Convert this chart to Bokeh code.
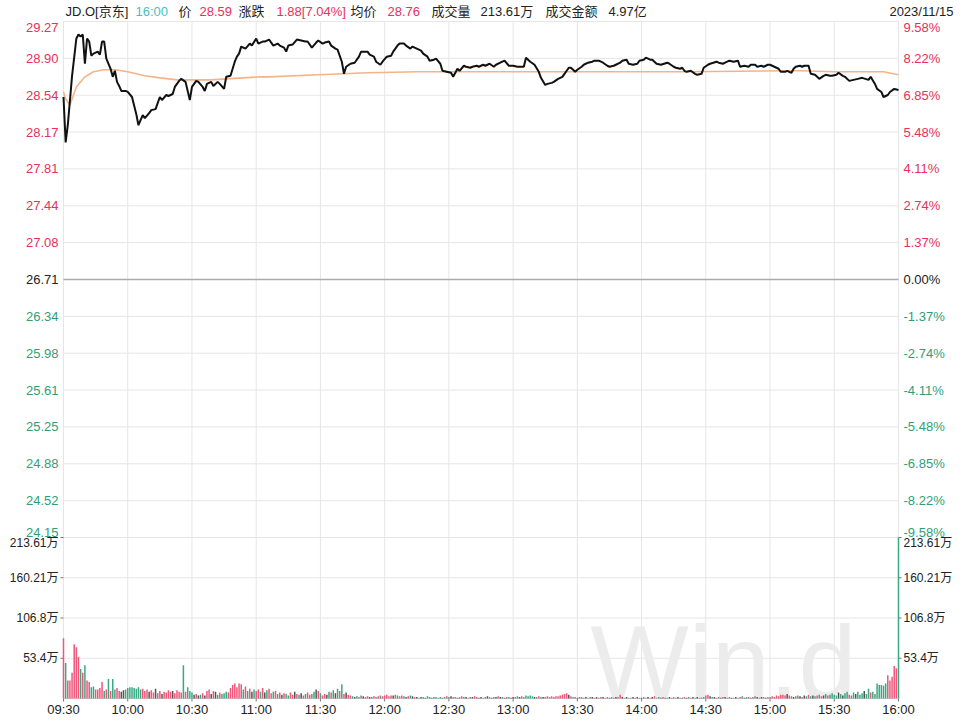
from bokeh.plotting import figure
from bokeh.models import Range1d
from bokeh.core.properties import value
from bokeh.embed import file_html
from bokeh.resources import INLINE

# ---------------- data ----------------
ticker_name = "JD.O[京东]"
last_time = "16:00"
last_price = 28.59
change = 1.88
change_pct = 7.04
avg_price = 28.76
volume_text = "213.61万"
amount_text = "4.97亿"
date_text = "2023/11/15"

prev_close = 26.71
pct_max = 9.58
left_labels = ["29.27", "28.90", "28.54", "28.17", "27.81", "27.44", "27.08", "26.71",
               "26.34", "25.98", "25.61", "25.25", "24.88", "24.52", "24.15"]
right_labels = ["9.58%", "8.22%", "6.85%", "5.48%", "4.11%", "2.74%", "1.37%", "0.00%",
                "-1.37%", "-2.74%", "-4.11%", "-5.48%", "-6.85%", "-8.22%", "-9.58%"]

x_ticks = [0, 30, 60, 90, 120, 150, 180, 210, 240, 270, 300, 330, 360, 390]
x_labels = ["09:30", "10:00", "10:30", "11:00", "11:30", "12:00", "12:30", "13:00",
            "13:30", "14:00", "14:30", "15:00", "15:30", "16:00"]

vol_ticks = [53.4, 106.8, 160.21, 213.61]
vol_labels = ["53.4万", "106.8万", "160.21万", "213.61万"]

# minutes after 09:30
price_time = [0, 1, 2, 4, 6, 7, 8, 9, 10, 11, 12, 13, 14, 16, 17, 18, 19, 20, 22, 23, 24, 25, 26, 27, 29,
              30, 32, 34, 35, 37, 38, 40, 41, 43, 45, 46, 48, 49, 51, 52, 54, 55, 57, 59,
              60, 62, 63, 65, 66, 67, 69, 70, 72, 73, 75, 76, 78, 80, 81, 82, 83, 85, 87, 88,
              90, 91, 93, 94, 96, 98, 100, 101, 103, 104, 105, 107, 109, 111, 113, 114, 116, 118, 119,
              121, 122, 124, 125, 127, 128, 130, 131, 132, 134, 136, 138, 139, 142, 143, 145, 146, 148, 149,
              151, 153, 154, 156, 157, 159, 160, 162, 163, 165, 167, 168, 170, 171, 173, 174, 176, 177, 179,
              181, 182, 184, 185, 187, 188, 190, 191, 193, 194, 196, 197, 199, 201, 202, 204, 206, 208,
              210, 212, 215, 216, 218, 220, 222, 223, 225, 226, 228, 229, 231, 233, 234, 236, 237, 239,
              240, 242, 243, 245, 247, 248, 250, 252, 254, 255, 257, 258, 260, 261, 263, 264, 266, 268, 269,
              271, 272, 274, 275, 277, 279, 282, 283, 285, 286, 288, 289, 290, 291, 293, 295, 296, 298, 299,
              301, 302, 305, 306, 308, 309, 311, 313, 315, 316, 318, 320, 321, 323, 324, 326, 327, 329,
              330, 332, 334, 335, 337, 338, 340, 341, 342, 344, 345, 346, 348, 349, 351, 352, 353, 355, 356, 358, 359,
              361, 362, 364, 365, 367, 369, 371, 373, 376, 377, 379, 380, 382, 383, 385, 386, 388, 390]
price_val = [28.52, 28.07, 28.24, 28.73, 29.10, 29.14, 29.12, 29.14, 28.85, 29.10, 29.07, 28.93, 28.95, 28.97, 28.94, 29.07, 29.07, 28.90, 28.80, 28.72, 28.78, 28.67, 28.63, 28.58, 28.58,
             28.57, 28.52, 28.35, 28.24, 28.34, 28.31, 28.36, 28.39, 28.40, 28.52, 28.49, 28.54, 28.53, 28.55, 28.62, 28.68, 28.70, 28.67, 28.49,
             28.62, 28.68, 28.67, 28.62, 28.58, 28.65, 28.67, 28.63, 28.67, 28.65, 28.60, 28.72, 28.73, 28.87, 28.92, 28.95, 29.02, 29.00, 29.05, 29.03,
             29.10, 29.05, 29.07, 29.07, 29.09, 29.03, 29.05, 29.03, 29.01, 28.97, 29.03, 29.04, 29.09, 29.08, 29.07, 29.07, 29.01, 29.06, 29.08,
             29.05, 29.06, 29.07, 29.03, 29.00, 28.99, 28.87, 28.75, 28.82, 28.85, 28.86, 28.92, 28.97, 28.97, 28.94, 28.92, 28.87, 28.84, 28.87,
             28.92, 28.93, 28.97, 29.03, 29.05, 29.05, 29.03, 29.00, 29.02, 29.00, 28.98, 28.95, 28.92, 28.88, 28.89, 28.90, 28.85, 28.78, 28.77,
             28.76, 28.72, 28.80, 28.78, 28.83, 28.82, 28.81, 28.82, 28.83, 28.82, 28.84, 28.83, 28.85, 28.82, 28.84, 28.86, 28.88, 28.83,
             28.83, 28.82, 28.82, 28.91, 28.87, 28.84, 28.77, 28.71, 28.64, 28.65, 28.66, 28.67, 28.70, 28.72, 28.75, 28.81, 28.81, 28.77,
             28.79, 28.82, 28.84, 28.86, 28.87, 28.88, 28.88, 28.86, 28.83, 28.82, 28.83, 28.84, 28.86, 28.88, 28.89, 28.85, 28.84, 28.85, 28.88,
             28.89, 28.91, 28.89, 28.89, 28.85, 28.84, 28.86, 28.85, 28.82, 28.81, 28.80, 28.81, 28.78, 28.77, 28.78, 28.75, 28.74, 28.75, 28.81,
             28.84, 28.85, 28.87, 28.86, 28.85, 28.86, 28.88, 28.87, 28.88, 28.82, 28.83, 28.82, 28.84, 28.84, 28.82, 28.83, 28.82, 28.84,
             28.84, 28.82, 28.80, 28.77, 28.77, 28.78, 28.76, 28.80, 28.82, 28.83, 28.82, 28.83, 28.83, 28.75, 28.74, 28.72, 28.70, 28.73, 28.74, 28.73, 28.73,
             28.74, 28.76, 28.73, 28.72, 28.68, 28.69, 28.70, 28.71, 28.69, 28.72, 28.65, 28.60, 28.57, 28.52, 28.54, 28.57, 28.60, 28.59]

avg_time = [0, 1, 3, 6, 10, 14, 19, 24, 30, 38, 45, 53, 61, 69, 76, 84, 92, 96, 119, 142, 166, 194, 240, 290, 337, 344, 360, 383, 390]
avg_val = [28.57, 28.50, 28.44, 28.62, 28.72, 28.77, 28.79, 28.79, 28.77, 28.73, 28.71, 28.69, 28.69, 28.69, 28.70,
           28.71, 28.72, 28.72, 28.74, 28.76, 28.77, 28.77, 28.77, 28.77, 28.78, 28.78, 28.77, 28.77, 28.74]

# volume per minute (万股), minute 0 .. 390
vol = [80, 47, 24, 24, 34, 72, 68, 55, 39, 34, 44, 24, 22, 15, 16, 12, 12, 14, 22, 10, 12, 26, 10, 26, 12, 14, 10, 9, 11, 12,
       14, 15, 15, 14, 13, 15, 12, 13, 10, 12, 9, 11, 8, 13, 7, 10, 6, 9, 8, 11, 9, 10, 7, 11, 9, 8, 44, 9, 15, 10,
       8, 5, 6, 4, 5, 7, 4, 10, 12, 6, 10, 9, 5, 8, 6, 7, 9, 8, 14, 18, 20, 15, 20, 19, 12, 16, 10, 13, 9, 12,
       10, 12, 9, 14, 8, 11, 13, 7, 9, 10, 6, 8, 5, 7, 6, 4, 8, 5, 9, 6, 5, 7, 4, 6, 8, 5, 6, 9, 12, 10,
       7, 4, 6, 5, 9, 8, 11, 7, 13, 10, 19, 6, 8, 5, 4,
       3, 2, 3, 2, 4, 3, 2, 3, 2, 2, 3, 2, 3, 4, 3, 4, 5, 3, 4, 4, 5, 4, 3, 4, 3, 2, 3, 4, 3, 2,
       2, 1, 2, 2, 1, 3, 2, 1, 2, 2, 1, 2, 1, 2, 3, 2, 3, 2, 2, 1, 2, 3, 2, 2, 1, 2, 2, 3, 2, 1,
       2, 1, 2, 3, 2, 1, 2, 2, 3, 2, 2, 1, 2, 2, 1, 2, 2, 3, 2, 3, 2, 4, 3, 4, 3, 2, 2, 3, 2, 2,
       2, 3, 2, 3, 2, 3, 3, 4, 5, 6, 7, 5, 3, 2, 2, 1, 2, 2, 1, 2, 1, 2, 2, 1, 2, 1, 2, 2, 1, 2,
       1, 2, 1, 2, 2, 5, 2, 1, 2, 1, 1, 2, 1, 2, 1, 1, 2, 1, 2, 1, 2, 3, 1, 2, 1, 2, 1, 1, 2, 1,
       2, 1, 2, 1, 1, 2, 1, 2, 1, 2, 1, 2, 1, 1, 2,
       4, 5, 3, 2, 2, 1, 2, 1, 2, 2, 1, 2, 1, 1, 2, 1, 2, 3, 1, 2, 2, 1, 2, 3, 2, 1, 2, 2, 1, 2,
       2, 3, 2, 4, 3, 5, 5, 4, 6, 4, 3, 2, 3, 4, 3, 2, 4, 3, 5, 3, 4, 3, 4, 5, 3, 4, 6, 4, 5, 7,
       5, 4, 8, 6, 4, 7, 9, 5, 4, 8, 6, 9, 5, 7, 10, 6,
       13, 8, 9, 6, 20, 18, 18, 17, 20, 31, 24, 29, 43, 40, 213.61]
# u = up minute, d = down minute, f = unchanged
vol_dir = ("uduuuuuudu" "duudduuuud" "ududduuffd"
           "ddddddduuu" "fuufuufuuu" "ufuuuududd"
           "dfufdufuuf" "ufduddduuu" "uuuududufd"
           "uudufduudu" "dufudduufu" "dfuduuddfu" "duufdudfdu" "dufuu"
           "dfdudfuufd" "uuuduuuuuf" "uduudfudfu"
           "fdfdfddfdd" "ddfdudfudf" "uudfudfuuf"
           "fudfufdfuf" "dfudffudfu" "dddddfdudf"
           "uuuuuuuuuu" "ufudufuduf" "udfufdufdu"
           "fdufuufdfu" "dfufdfudfu" "fuddfufdfu" "dufdfufduf" "dfufd"
           "uufdfudfuf" "dufdfuudfd" "ufdufdfufd"
           "uuuuuuuufu" "dfudfufdud" "fdudufdudd"
           "ddfdfddudd" "fdddfd"
           "dudddddddu" "uuuud")

# ---------------- style / layout ----------------
FONT = "Liberation Sans, Noto Sans CJK SC"
RED = "#e8305a"
GREEN = "#2e9f77"
TEAL = "#48bfc0"
TXT = "#222222"
GRID = "#e6e6e6"
UP_BAR = "#f0557a"
DN_BAR = "#3aa880"
FLAT_BAR = "#555555"

W, H = 960, 718
L, R, T, MID, B = 63, 898, 21, 537, 698   # pixel frame of the two panels

lo = prev_close * (1 - pct_max / 100)
hi = prev_close * (1 + pct_max / 100)
price_ticks = [prev_close * (1 + pct_max / 100 * k / 7) for k in range(7, -8, -1)]
vmax = vol_ticks[-1]

mpp = 390.0 / (R - L)          # minutes per pixel
ppp = (hi - lo) / (MID - T)    # price per pixel
vpp = vmax / (B - MID)         # volume per pixel


def X(px):
    return (px - L) * mpp


def YP(px):
    return hi - (px - T) * ppp


def YV(px):
    return (B - px) * vpp


def pxP(v):
    return T + (hi - v) / ppp


def pxV(v):
    return B - v / vpp


p = figure(width=W, height=H,
           x_range=Range1d(X(0), X(W)), y_range=Range1d(YP(H), YP(0)),
           output_backend="svg", toolbar_location=None,
           x_axis_location=None, y_axis_location=None,
           min_border=0, outline_line_color=None)
p.extra_y_ranges = {"vol": Range1d(YV(H), YV(0))}
p.xgrid.visible = False
p.ygrid.visible = False

# grid lines
n = len(x_ticks)
p.segment(x0=x_ticks, y0=[YP(B)] * n, x1=x_ticks, y1=[hi] * n, line_color=GRID, line_width=1)
hg = [t for t in price_ticks if abs(t - prev_close) > 1e-9]
p.segment(x0=[0] * len(hg), y0=hg, x1=[390] * len(hg), y1=hg, line_color=GRID, line_width=1)
p.segment(x0=[0] * 4, y0=vol_ticks, x1=[390] * 4, y1=vol_ticks, line_color=GRID, line_width=1,
          y_range_name="vol")
p.segment(x0=[0], y0=[prev_close], x1=[390], y1=[prev_close], line_color="#aaaaaa", line_width=1.5)
p.segment(x0=[0], y0=[0], x1=[390], y1=[0], line_color="#d2d2d2", line_width=1, y_range_name="vol")

# ticks
p.segment(x0=x_ticks, y0=[0] * n, x1=x_ticks, y1=[YV(B + 3)] * n, line_color="#777777",
          y_range_name="vol")
p.segment(x0=[X(L - 3)] * 4, y0=vol_ticks, x1=[0] * 4, y1=vol_ticks, line_color="#777777",
          y_range_name="vol")
p.segment(x0=[390] * 4, y0=vol_ticks, x1=[X(R + 3)] * 4, y1=vol_ticks, line_color="#777777",
          y_range_name="vol")

# watermark (text y is the visual centre of the line box)
p.text(x=[X(590)], y=[YV(661)], text=["Win.d"], text_color="#ececec",
       text_font=value(FONT), text_font_size=value("104px"),
       text_baseline="alphabetic", text_align="left", y_range_name="vol")

# volume bars
cmap = {"u": UP_BAR, "d": DN_BAR, "f": FLAT_BAR}
p.vbar(x=list(range(len(vol))), top=vol, bottom=0, width=0.7,
       fill_color=[cmap[ch] for ch in vol_dir], line_color=None, y_range_name="vol")

# price & average lines
p.line(avg_time, avg_val, line_color="#f4b487", line_width=1.6)
p.line(price_time, price_val, line_color="#111111", line_width=2)

# price axis labels (y = visual centre of the label)
lab_col = [RED] * 7 + [TXT] + [GREEN] * 7
centre = [pxP(t) for t in price_ticks]
centre[0] += 6
centre[-1] -= 5
lab_y = [YP(c) for c in centre]
p.text(x=[X(58)] * 15, y=lab_y, text=left_labels, text_color=lab_col,
       text_align="right", text_baseline="alphabetic",
       text_font=value(FONT), text_font_size=value("13px"))
p.text(x=[X(903)] * 15, y=lab_y, text=right_labels, text_color=lab_col,
       text_align="left", text_baseline="alphabetic",
       text_font=value(FONT), text_font_size=value("13px"))

# volume axis labels
vc = [pxV(v) for v in vol_ticks]
vc[-1] += 5
vl_y = [YV(c) for c in vc]
p.text(x=[X(58)] * 4, y=vl_y, text=vol_labels, text_color=TXT,
       text_align="right", text_baseline="alphabetic",
       text_font=value(FONT), text_font_size=value("12px"), y_range_name="vol")
p.text(x=[X(903)] * 4, y=vl_y, text=vol_labels, text_color=TXT,
       text_align="left", text_baseline="alphabetic",
       text_font=value(FONT), text_font_size=value("12px"), y_range_name="vol")

# time labels
p.text(x=x_ticks, y=[YV(709)] * n, text=x_labels, text_color=TXT,
       text_align="center", text_baseline="alphabetic",
       text_font=value(FONT), text_font_size=value("13px"), y_range_name="vol")

# header
head_text = [ticker_name, last_time, "价", f"{last_price:.2f}", "涨跌",
             f"{change:.2f}[{change_pct:.2f}%]", "均价", f"{avg_price:.2f}",
             "成交量", volume_text, "成交金额", amount_text]
head_px = [65, 135, 178, 199, 238, 276, 350, 387, 431, 480, 545, 608]
head_c = [TXT, TEAL, TXT, RED, TXT, RED, TXT, RED, TXT, TXT, TXT, TXT]
p.text(x=[X(v) for v in head_px], y=[YP(11)] * len(head_px), text=head_text, text_color=head_c,
       text_font=value(FONT), text_font_size=value("13px"),
       text_align="left", text_baseline="alphabetic")
p.text(x=[X(953)], y=[YP(11)], text=[date_text], text_color=TXT,
       text_font=value(FONT), text_font_size=value("13px"),
       text_align="right", text_baseline="alphabetic")

open("out.html", "w").write(file_html(p, INLINE))
